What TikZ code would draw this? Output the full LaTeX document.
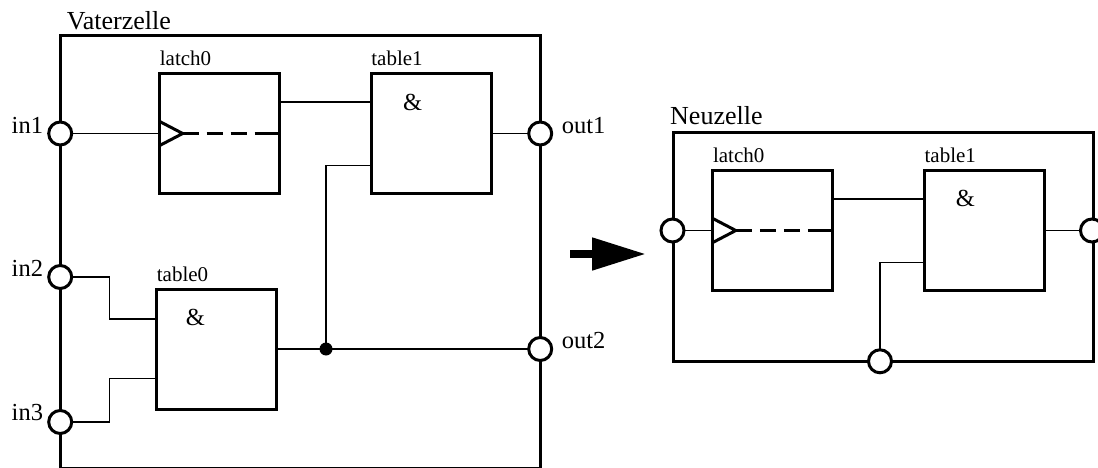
\documentclass[tikz,border=0pt]{standalone}
\usepackage{fontspec}
\setmainfont{Liberation Serif}
\usetikzlibrary{arrows.meta}
\begin{document}
\begin{tikzpicture}[
    x=1pt,
    y=-1pt,
    cell/.style={rectangle,draw,line width=3pt,inner sep=0pt,outer sep=0pt},
    blk/.style={rectangle,draw,line width=3pt,inner sep=0pt,outer sep=0pt,minimum width=120pt,minimum height=120pt},
    port/.style={circle,draw,fill=white,line width=3pt,inner sep=0pt,outer sep=0pt,minimum size=23pt},
    junc/.style={circle,fill=black,inner sep=0pt,outer sep=0pt,minimum size=13pt},
    wire/.style={line width=1.2pt},
    clk/.style={line width=3pt},
    dashwire/.style={line width=2.6pt,dash pattern=on 16.5pt off 7.5pt},
    lab/.style={anchor=base west,inner sep=0pt,font=\fontsize{21}{24}\selectfont},
    pin/.style={anchor=base west,inner sep=0pt,font=\fontsize{24.5}{28}\selectfont},
    title/.style={anchor=base west,inner sep=0pt,font=\fontsize{26}{30}\selectfont}
]
\useasboundingbox (0,0) rectangle (1098,468);

% Vaterzelle
\node[cell,minimum width=480pt,minimum height=433pt] (vater) at (300.2,252.2) {};
\node[title] (vatertitle) at (66.7,30) {Vaterzelle};

\node[blk] (latcha) at (219.7,133.5) {};
\node[blk] (tableb) at (431.2,133.5) {};
\node[blk] (tablea) at (216.7,349) {};
\node[lab] (latchalab) at ([yshift=8]latcha.north west) {latch0};
\node[lab] (tableblab) at ([yshift=8]tableb.north west) {table1};
\node[lab] (tablealab) at ([yshift=8]tablea.north west) {table0};
\node[pin] (tableband) at (403,111) {\&};
\node[pin] (tableaand) at (185.7,325) {\&};

\node[port] (ina) at (60.2,133.5) {};
\node[port] (inb) at (60.2,277) {};
\node[port] (inc) at (60.2,422) {};
\node[port] (outa) at (540.2,133.5) {};
\node[port] (outb) at (540.2,349) {};
\node[pin] (inalab) at (11.5,134) {in1};
\node[pin] (inblab) at (11.5,276.7) {in2};
\node[pin] (inclab) at (11.5,420.7) {in3};
\node[pin] (outalab) at (561.7,134) {out1};
\node[pin] (outblab) at (561.7,348) {out2};
\node[junc] (dot) at (326,349) {};

\draw[clk] ([yshift=12]latcha.west) -- ([xshift=23]latcha.west) coordinate (latchatip) -- ([yshift=-12]latcha.west);
\draw[dashwire] (latchatip) -- (latcha.east);
\draw[dashwire,solid] ([xshift=-17]latcha.east) -- (latcha.east);
\draw[wire] (ina) -- (latcha.west);
\draw[wire] ([yshift=31.5]latcha.east) -- ([yshift=31.5]tableb.west);
\draw[wire] (tableb.east) -- (outa);
\draw[wire] (inb) -- ++(49,0) |- ([yshift=30]tablea.west);
\draw[wire] (inc) -- ++(49,0) |- ([yshift=-29.5]tablea.west);
\draw[wire] (tablea.east) -- (outb);
\draw[wire] (dot) |- ([yshift=-32]tableb.west);

% arrow
\coordinate (arrowa) at (570,254);
\coordinate (arrowb) at (646,254);
\draw[-{Triangle[length=54pt,width=31pt]},line width=8pt] (arrowa) -- (arrowb);

% Neuzelle
\node[cell,minimum width=420pt,minimum height=229pt] (neu) at (883.3,247.3) {};
\node[title] (neutitle) at (670,125) {Neuzelle};

\node[blk] (nlatcha) at (772.8,230.5) {};
\node[blk] (ntableb) at (984.4,230.5) {};
\node[lab] (nlatchalab) at ([yshift=8]nlatcha.north west) {latch0};
\node[lab] (ntableblab) at ([yshift=8]ntableb.north west) {table1};
\node[pin] (ntableband) at (955.7,207) {\&};

\node[port] (nin) at (672.5,230.5) {};
\node[port] (nout) at (1092,230.5) {};
\node[port] (nbot) at (880,361.3) {};

\draw[clk] ([yshift=12]nlatcha.west) -- ([xshift=23]nlatcha.west) coordinate (nlatchatip) -- ([yshift=-12]nlatcha.west);
\draw[dashwire] (nlatchatip) -- (nlatcha.east);
\draw[dashwire,solid] ([xshift=-17]nlatcha.east) -- (nlatcha.east);
\draw[wire] (nin) -- (nlatcha.west);
\draw[wire] ([yshift=31.5]nlatcha.east) -- ([yshift=31.5]ntableb.west);
\draw[wire] (ntableb.east) -- (nout);
\draw[wire] (nbot) |- ([yshift=-31.7]ntableb.west);

\end{tikzpicture}
\end{document}
